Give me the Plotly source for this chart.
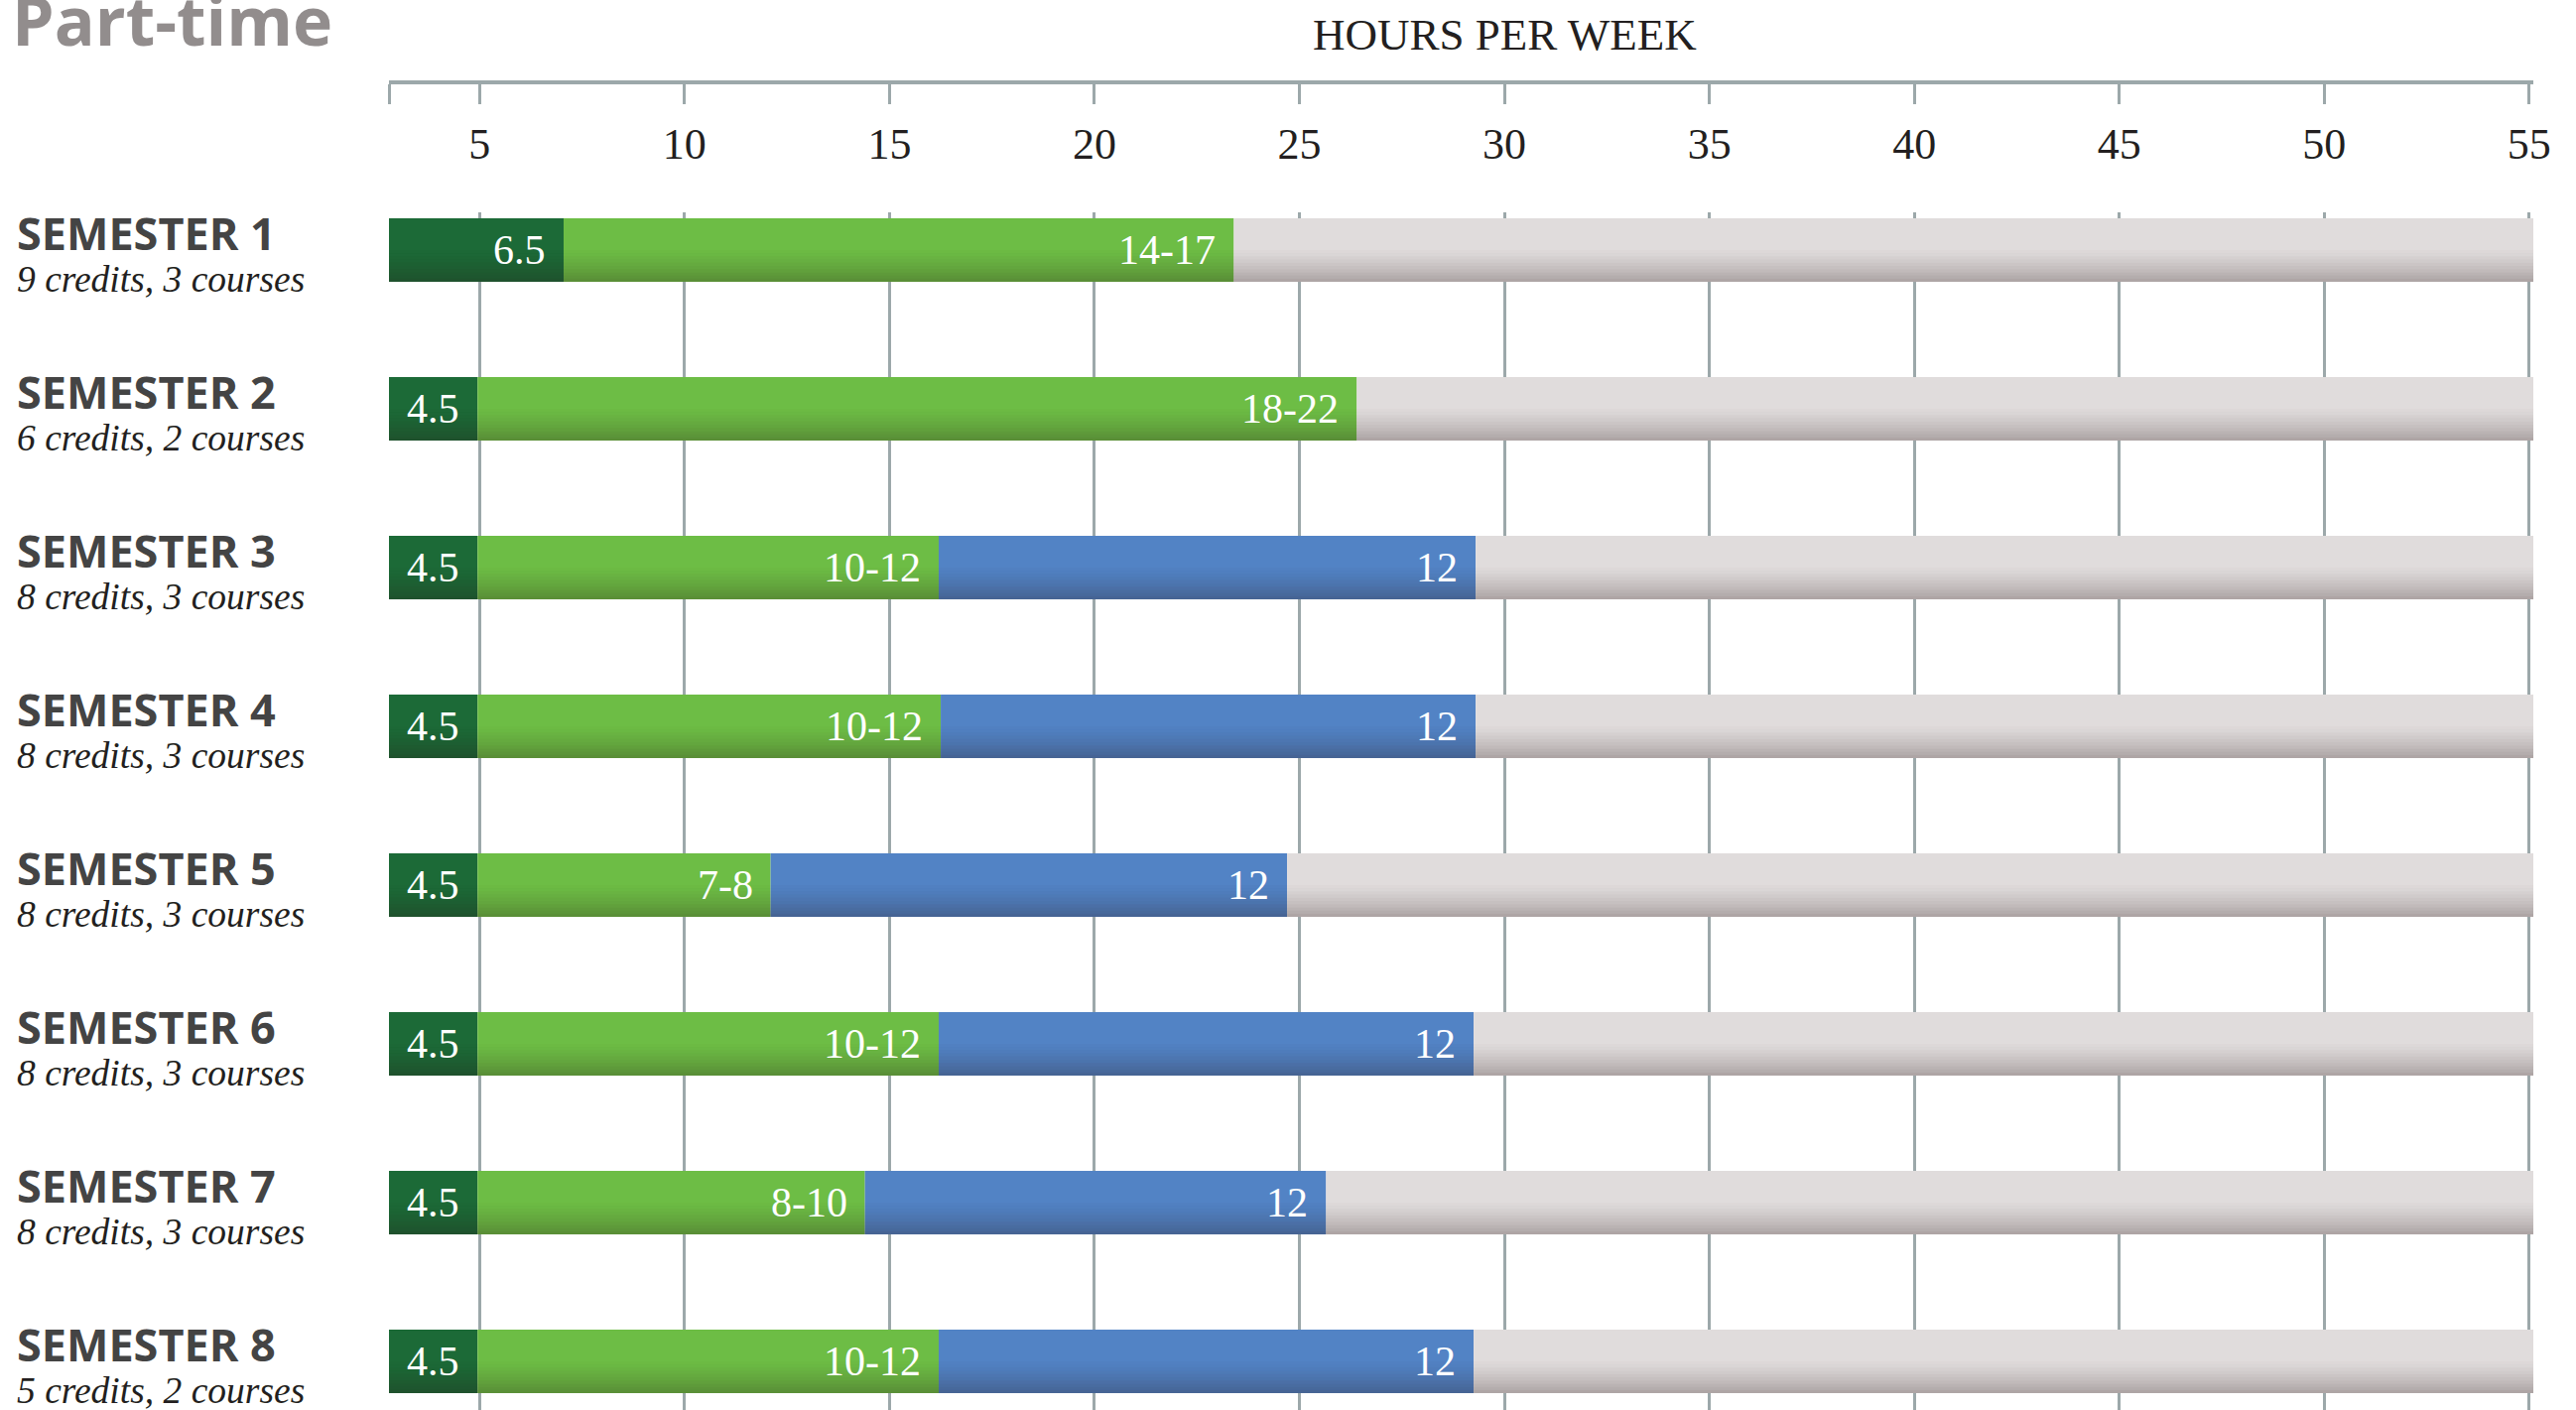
import plotly.graph_objects as go

# ---------------- data ----------------
SEMESTERS = ["SEMESTER 1", "SEMESTER 2", "SEMESTER 3", "SEMESTER 4",
             "SEMESTER 5", "SEMESTER 6", "SEMESTER 7", "SEMESTER 8"]
DETAILS = ["9 credits, 3 courses", "6 credits, 2 courses", "8 credits, 3 courses",
           "8 credits, 3 courses", "8 credits, 3 courses", "8 credits, 3 courses",
           "8 credits, 3 courses", "5 credits, 2 courses"]

# segment lengths (hours per week) as drawn in the picture
DARK = [7.05, 4.95, 4.95, 4.95, 4.95, 4.95, 4.95, 4.95]
LIGHT = [16.35, 21.45, 11.25, 11.3, 7.15, 11.25, 9.45, 11.25]
BLUE = [0, 0, 13.1, 13.05, 12.6, 13.05, 11.25, 13.05]

DARK_LABELS = ["6.5", "4.5", "4.5", "4.5", "4.5", "4.5", "4.5", "4.5"]
LIGHT_LABELS = ["14-17", "18-22", "10-12", "10-12", "7-8", "10-12", "8-10", "10-12"]
BLUE_LABELS = ["", "", "12", "12", "12", "12", "12", "12"]

TICKS = [5, 10, 15, 20, 25, 30, 35, 40, 45, 50, 55]
TICK_LABELS = [str(t) for t in TICKS]
X_MIN, X_MAX = 2.79, 55.1

TITLE = "Part-time"
AXIS_TITLE = "HOURS PER WEEK"

# ---------------- styles ----------------
C_DARK = "#1c6a37"
C_LIGHT = "#6dbd45"
C_BLUE = "#5283c5"
C_GRAY = "#e0dcdc"
GRID = "#9ca8aa"
SERIF = "Liberation Serif"
SANS = "Open Sans"
BAR_W = 0.4

W, H = 2596, 1421
ML, MR, MT, MB = 392, 43, 60, 0
PW = W - ML - MR            # plot width in px
PH = H - MT - MB            # paper height in px


def px_x(p):                # page x pixel -> paper x
    return (p - ML) / PW


def px_y(p):                # page y pixel -> paper y
    return (H - MB - p) / PH


n = len(SEMESTERS)
pos = list(range(n))
start_light = [d for d in DARK]
start_blue = [d + l for d, l in zip(DARK, LIGHT)]
start_gray = [d + l + b for d, l, b in zip(DARK, LIGHT, BLUE)]
GRAY = [X_MAX - s for s in start_gray]
totals = [s + g for s, g in zip(start_gray, GRAY)]

fig = go.Figure()


def seg(x, base, color):
    fig.add_trace(go.Bar(orientation="h", y=pos, x=x, base=base, width=BAR_W,
                         marker=dict(color=color, line=dict(width=0)),
                         hoverinfo="skip", showlegend=False))


seg(DARK, [0] * n, C_DARK)
seg(LIGHT, start_light, C_LIGHT)
seg(BLUE, start_blue, C_BLUE)
seg(GRAY, start_gray, C_GRAY)

# gradient shading on the lower half of every bar
steps = 10
for k in range(steps):
    a = 0.27 * ((k + 1) / steps) ** 1.3
    fig.add_trace(go.Bar(orientation="h", y=pos, x=totals, base=[0] * n,
                         width=BAR_W / 2 / steps,
                         offset=k * BAR_W / 2 / steps,
                         marker=dict(color=f"rgba(40,20,20,{a:.3f})", line=dict(width=0)),
                         hoverinfo="skip", showlegend=False))

# invisible trace to carry the top axis
fig.add_trace(go.Scatter(x=[TICKS[0]], y=[0], xaxis="x2", mode="markers",
                         marker=dict(opacity=0), hoverinfo="skip", showlegend=False))

ann = []
# value labels inside segments
for labels, ends in ((DARK_LABELS, start_light), (LIGHT_LABELS, start_blue),
                     (BLUE_LABELS, start_gray)):
    for i in range(n):
        if labels[i]:
            ann.append(dict(x=ends[i], y=pos[i], xref="x", yref="y", text=labels[i],
                            showarrow=False, xanchor="right", yanchor="middle",
                            xshift=-16, yshift=0,
                            font=dict(family=SERIF, size=42, color="white")))

# semester labels (two lines, two fonts, one text block)
LX = px_x(15)
for i in range(n):
    txt = (f"<span style='font-family:{SANS};font-weight:bold;font-size:45px;color:#444444'>"
           f"{SEMESTERS[i]}</span><br>"
           f"<span style='font-family:{SERIF};font-style:italic;font-size:37.5px;color:#231f20'>"
           f"{DETAILS[i]}</span>")
    ann.append(dict(x=LX, y=pos[i], xref="paper", yref="y", text=txt, align="left",
                    showarrow=False, xanchor="left", yanchor="middle", yshift=-1,
                    font=dict(family=SERIF, size=32, color="#231f20")))

ann.append(dict(x=px_x(10), y=px_y(20), xref="paper", yref="paper", text=TITLE,
                showarrow=False, xanchor="left", yanchor="middle",
                font=dict(family=SANS, size=68, color="#928d8d", weight="bold")))
ann.append(dict(x=px_x(1516), y=px_y(35), xref="paper", yref="paper", text=AXIS_TITLE,
                showarrow=False, xanchor="center", yanchor="middle",
                font=dict(family=SERIF, size=45, color="#231f20")))

fig.update_layout(
    width=W, height=H,
    margin=dict(l=ML, r=MR, t=MT, b=MB),
    plot_bgcolor="white", paper_bgcolor="white",
    barmode="overlay", showlegend=False,
    annotations=ann,
    xaxis=dict(range=[X_MIN, X_MAX], tickvals=TICKS, showticklabels=False, ticks="",
               showgrid=True, gridcolor=GRID, gridwidth=3, zeroline=False, showline=False),
    xaxis2=dict(overlaying="x", anchor="free", position=px_y(83), side="bottom",
                range=[X_MIN, X_MAX], tickvals=[X_MIN] + TICKS, ticktext=[""] + TICK_LABELS,
                ticks="outside", ticklen=20, tickwidth=3, tickcolor=GRID,
                showline=True, linecolor=GRID, linewidth=4, showgrid=False, zeroline=False,
                ticklabelstandoff=2,
                tickfont=dict(family=SERIF, size=44, color="#231f20")),
    yaxis=dict(domain=[0, px_y(214)], range=[7.306, -0.2375], showticklabels=False,
               showgrid=False, zeroline=False, ticks=""),
)

fig.write_html("out.html", config={"displayModeBar": False},
               post_script="document.body.style.margin='0';document.body.style.overflow='hidden';")
